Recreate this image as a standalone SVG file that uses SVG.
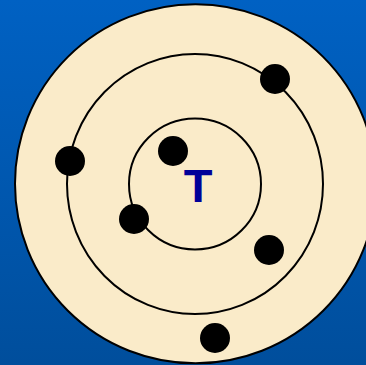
<svg xmlns="http://www.w3.org/2000/svg" width="366" height="365" viewBox="0 0 366 365">
<defs>
<linearGradient id="bg" x1="0" y1="0" x2="0" y2="1">
<stop offset="0" stop-color="#0061C3"/>
<stop offset="1" stop-color="#004E9C"/>
</linearGradient>
</defs>
<style>
.orbit{fill:none;stroke:#000;stroke-width:2}
.e{fill:#000}
</style>
<rect width="366" height="365" fill="url(#bg)"/>
<g id="atom">
<ellipse cx="195.5" cy="183.8" rx="180.5" ry="179.5" fill="#FAEBC9" stroke="#000" stroke-width="2"/>
<ellipse class="orbit" cx="195" cy="184" rx="128" ry="130"/>
<ellipse class="orbit" cx="195" cy="184" rx="66" ry="65.5"/>
</g>
<g id="electrons">
<circle class="e" cx="275" cy="79" r="15"/>
<circle class="e" cx="70" cy="161" r="15"/>
<circle class="e" cx="173" cy="151" r="15"/>
<circle class="e" cx="134" cy="219" r="15"/>
<circle class="e" cx="269" cy="250" r="15"/>
<circle class="e" cx="215" cy="338" r="15"/>
</g>
<g id="nucleus">
<text x="198" y="202" text-anchor="middle" font-family="Liberation Sans, Arial, sans-serif" font-weight="bold" font-size="47" fill="#000099">T</text>
</g>
</svg>
